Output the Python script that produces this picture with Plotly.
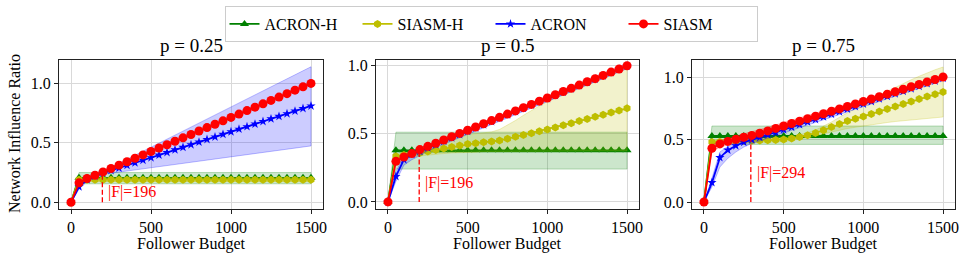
import plotly.graph_objects as go

BUDGET = [0, 50, 100, 150, 200, 250, 300, 350, 400, 450, 500, 550, 600, 650, 700, 750,
          800, 850, 900, 950, 1000, 1050, 1100, 1150, 1200, 1250, 1300, 1350, 1400, 1450, 1500]

PANEL_TITLES = ["p = 0.25", "p = 0.5", "p = 0.75"]
SERIES_NAMES = ["ACRON-H", "SIASM-H", "ACRON", "SIASM"]

# ---------------- p = 0.25 ----------------
acronh_25 = [0] + [0.205] * 30
acronh_25_lo = [0] + [0.155] * 30
acronh_25_hi = [0] + [0.250] * 30
siasmh_25 = [0] + [0.190] * 30
siasmh_25_lo = [0] + [0.175] * 30
siasmh_25_hi = [0] + [0.205] * 30
acron_25 = [0, .130, .190, .220, .245, .267, .288, .310, .332, .354, .375, .397, .419, .441, .462, .484,
            .506, .528, .549, .571, .593, .615, .636, .658, .680, .702, .723, .745, .767, .789, .810]
acron_25_lo = [0, .110, .175, .205, .235, .244, .253, .263, .272, .281, .290, .299, .309, .318, .327, .336,
               .345, .355, .364, .373, .382, .391, .400, .410, .419, .428, .437, .446, .456, .465, .474]
acron_25_hi = [0, .150, .205, .235, .260, .294, .328, .362, .395, .429, .463, .497, .531, .565, .599, .633,
               .666, .700, .734, .768, .802, .836, .870, .903, .937, .971, 1.005, 1.039, 1.073, 1.107, 1.140]
siasm_25 = [0, .163, .200, .227, .255, .284, .312, .341, .370, .398, .427, .456, .484, .513, .542, .570,
            .599, .628, .656, .685, .714, .742, .771, .800, .828, .857, .885, .914, .943, .971, 1.000]
siasm_25_lo = [0, .150, .188, .215, .243, .272, .300, .329, .358, .386, .415, .444, .472, .501, .530, .558,
               .587, .616, .644, .673, .702, .730, .759, .788, .816, .845, .873, .902, .931, .959, .988]
siasm_25_hi = [0, .176, .212, .239, .267, .296, .324, .353, .382, .410, .439, .468, .496, .525, .554, .582,
               .611, .640, .668, .697, .726, .754, .783, .812, .840, .869, .897, .926, .955, .983, 1.012]

# ---------------- p = 0.5 ----------------
acronh_50 = [0] + [0.379] * 30
acronh_50_lo = [0] + [0.241] * 30
acronh_50_hi = [0] + [0.512] * 30
siasmh_50 = [0, .335, .345, .352, .360, .370, .381, .392, .403, .414, .425, .431, .438, .444, .451, .464,
             .478, .491, .505, .518, .532, .547, .563, .578, .594, .609, .625, .640, .656, .671, .687]
siasmh_50_lo = [0, .320, .330, .335, .340, .345, .350, .355, .360, .360, .365, .365, .370, .370, .372, .372,
                .374, .374, .375, .375, .375, .375, .375, .375, .375, .375, .375, .375, .375, .375, .375]
siasmh_50_hi = [0, .350, .360, .368, .378, .400, .425, .448, .468, .484, .495, .501, .506, .514, .532, .562,
                .598, .636, .672, .705, .737, .765, .792, .818, .843, .868, .893, .918, .940, .962, .985]
acron_50 = [0, .187, .310, .350, .372, .398, .421, .446, .470, .494, .518, .543, .567, .591, .615, .639,
            .663, .687, .711, .735, .759, .783, .807, .830, .854, .878, .902, .926, .950, .974, .998]
acron_50_lo = [0, .150, .270, .310, .340, .375, .400, .426, .450, .474, .498, .523, .547, .571, .595, .619,
               .643, .667, .691, .715, .739, .763, .787, .810, .834, .858, .882, .906, .930, .954, .978]
acron_50_hi = [0, .220, .340, .372, .392, .415, .437, .461, .485, .509, .533, .558, .582, .606, .630, .654,
               .678, .702, .726, .750, .774, .798, .822, .845, .869, .893, .917, .941, .965, .989, 1.013]
siasm_50 = [0, .298, .330, .355, .384, .408, .431, .455, .479, .503, .526, .550, .574, .597, .621, .645,
            .668, .692, .716, .740, .763, .787, .811, .834, .858, .882, .905, .929, .953, .976, 1.000]
siasm_50_lo = [0, .283, .315, .340, .369, .393, .416, .440, .464, .488, .511, .535, .559, .582, .606, .630,
               .653, .677, .701, .725, .748, .772, .796, .819, .843, .867, .890, .914, .938, .961, .985]
siasm_50_hi = [0, .313, .345, .370, .399, .423, .446, .470, .494, .518, .541, .565, .589, .612, .636, .660,
               .683, .707, .731, .755, .778, .802, .826, .849, .873, .897, .920, .944, .968, .991, 1.015]

# ---------------- p = 0.75 ----------------
acronh_75 = [0] + [0.528] * 30
acronh_75_lo = [0] + [0.461] * 30
acronh_75_hi = [0] + [0.608] * 30
siasmh_75 = [0, .480, .482, .484, .486, .488, .490, .492, .494, .496, .500, .508, .520, .535, .552, .575,
             .600, .625, .648, .667, .685, .705, .725, .745, .765, .785, .805, .825, .845, .862, .880]
siasmh_75_lo = [0, .465, .468, .470, .472, .474, .476, .478, .480, .482, .486, .493, .503, .515, .528, .545,
                .560, .575, .588, .598, .608, .618, .628, .636, .644, .652, .658, .664, .669, .674, .680]
siasmh_75_hi = [0, .495, .496, .498, .500, .502, .504, .506, .508, .510, .514, .523, .537, .555, .576, .605,
                .640, .678, .715, .752, .787, .822, .855, .887, .918, .948, .978, 1.006, 1.033, 1.058, 1.080]
acron_75 = [0, .155, .355, .415, .450, .478, .497, .517, .537, .557, .578, .598, .619, .640, .660, .681,
            .702, .722, .743, .763, .784, .804, .825, .845, .866, .886, .906, .926, .947, .968, .990]
acron_75_lo = [0, .120, .280, .350, .400, .440, .468, .492, .514, .535, .557, .578, .599, .620, .641, .662,
               .683, .704, .725, .745, .766, .786, .807, .827, .848, .868, .889, .909, .930, .951, .974]
acron_75_hi = [0, .190, .400, .445, .475, .500, .517, .537, .557, .577, .598, .618, .639, .660, .680, .701,
               .722, .742, .763, .783, .802, .822, .843, .863, .884, .904, .923, .943, .964, .984, 1.006]
siasm_75 = [0, .430, .465, .485, .502, .518, .533, .550, .569, .589, .608, .628, .647, .667, .687, .706,
            .726, .745, .765, .785, .804, .824, .843, .863, .882, .902, .922, .941, .961, .980, 1.000]
siasm_75_lo = [0, .400, .440, .458, .475, .490, .505, .522, .541, .561, .581, .601, .621, .642, .662, .682,
               .703, .723, .744, .765, .785, .806, .826, .847, .867, .888, .909, .929, .950, .970, .990]
siasm_75_hi = [0, .455, .490, .512, .530, .546, .561, .578, .597, .617, .636, .655, .674, .693, .712, .731,
               .750, .768, .787, .806, .824, .843, .861, .880, .898, .917, .936, .954, .973, .991, 1.010]

# follower-set size markers
F_SIZE = [196, 196, 294]
F_LINE_TOP = [0.24, 0.39, 0.50]
F_LABEL_Y = [0.087, 0.138, 0.234]

PANELS = [
    [(acronh_25, acronh_25_lo, acronh_25_hi), (siasmh_25, siasmh_25_lo, siasmh_25_hi),
     (acron_25, acron_25_lo, acron_25_hi), (siasm_25, siasm_25_lo, siasm_25_hi)],
    [(acronh_50, acronh_50_lo, acronh_50_hi), (siasmh_50, siasmh_50_lo, siasmh_50_hi),
     (acron_50, acron_50_lo, acron_50_hi), (siasm_50, siasm_50_lo, siasm_50_hi)],
    [(acronh_75, acronh_75_lo, acronh_75_hi), (siasmh_75, siasmh_75_lo, siasmh_75_hi),
     (acron_75, acron_75_lo, acron_75_hi), (siasm_75, siasm_75_lo, siasm_75_hi)],
]
Y_RANGES = [[-0.057, 1.197], [-0.052, 1.042], [-0.056, 1.136]]

# styles
COLORS = ["#008000", "#bfbf00", "#0000ff", "#ff0000"]
FILLS = ["rgba(0,128,0,0.2)", "rgba(191,191,0,0.2)", "rgba(0,0,255,0.2)", "rgba(255,0,0,0.2)"]
EDGES = ["rgba(0,128,0,0.25)", "rgba(191,191,0,0.25)", "rgba(0,0,255,0.25)", "rgba(255,0,0,0.25)"]
SYMBOLS = ["triangle-up", "hexagon", "star", "circle"]
SIZES = [8, 8, 7, 9]

FONT = "Liberation Serif"
W, H = 969, 262
X_DOMAINS = [[59 / W, 323 / W], [376 / W, 639 / W], [692 / W, 955 / W]]
Y_DOMAIN = [1 - 209 / H, 1 - 60 / H]

fig = go.Figure()

for p, series in enumerate(PANELS):
    xa = "x" if p == 0 else f"x{p + 1}"
    ya = "y" if p == 0 else f"y{p + 1}"
    for s, (mean, lo, hi) in enumerate(series):
        fig.add_trace(go.Scatter(
            x=BUDGET, y=mean, xaxis=xa, yaxis=ya, mode="lines+markers",
            name=SERIES_NAMES[s], legendgroup=SERIES_NAMES[s], showlegend=(p == 0),
            line=dict(color=COLORS[s], width=1.8),
            marker=dict(symbol=SYMBOLS[s], size=SIZES[s], color=COLORS[s], line=dict(width=0)),
        ))
        fig.add_trace(go.Scatter(
            x=BUDGET + BUDGET[::-1], y=hi + lo[::-1], xaxis=xa, yaxis=ya,
            mode="lines", fill="toself", fillcolor=FILLS[s],
            line=dict(color=EDGES[s], width=1), hoverinfo="skip", showlegend=False,
        ))
    fig.add_trace(go.Scatter(
        x=[F_SIZE[p], F_SIZE[p]], y=[0, F_LINE_TOP[p]], xaxis=xa, yaxis=ya, mode="lines",
        line=dict(color="#ff0000", width=1.3, dash="5px,2.5px"), showlegend=False, hoverinfo="skip",
    ))
    fig.add_annotation(
        x=F_SIZE[p], y=F_LABEL_Y[p], xref=xa, yref=ya, text=f"|F|={F_SIZE[p]}",
        showarrow=False, xanchor="left", yanchor="middle", xshift=4,
        font=dict(family=FONT, size=16, color="#ff0000"),
    )
    cx = (X_DOMAINS[p][0] + X_DOMAINS[p][1]) / 2
    fig.add_annotation(
        x=cx, y=1 - 46 / H, xref="paper", yref="paper", text=PANEL_TITLES[p],
        showarrow=False, xanchor="center", yanchor="middle",
        font=dict(family=FONT, size=19, color="black"),
    )
    fig.add_annotation(
        x=cx, y=1 - 244 / H, xref="paper", yref="paper", text="Follower Budget",
        showarrow=False, xanchor="center", yanchor="middle",
        font=dict(family=FONT, size=16, color="black"),
    )

fig.add_annotation(
    x=14 / W, y=1 - 134 / H, xref="paper", yref="paper", text="Network Influence Ratio",
    showarrow=False, textangle=-90, xanchor="center", yanchor="middle",
    font=dict(family=FONT, size=16, color="black"),
)

axis_common = dict(
    showline=True, mirror=True, linecolor="#222222", linewidth=1,
    showgrid=True, gridcolor="#d9d9d9", gridwidth=1.2, zeroline=False,
    ticks="outside", ticklen=4, tickcolor="#222222",
    tickfont=dict(family=FONT, size=16, color="black"),
)
layout = {}
for p in range(3):
    xk = "xaxis" if p == 0 else f"xaxis{p + 1}"
    yk = "yaxis" if p == 0 else f"yaxis{p + 1}"
    ya_name = "y" if p == 0 else f"y{p + 1}"
    xa_name = "x" if p == 0 else f"x{p + 1}"
    layout[xk] = dict(axis_common, domain=X_DOMAINS[p], range=[-75, 1575],
                      tickvals=[0, 500, 1000, 1500], anchor=ya_name, automargin=False)
    layout[yk] = dict(axis_common, domain=Y_DOMAIN, range=Y_RANGES[p],
                      tickvals=[0, 0.5, 1.0], tickformat=".1f", anchor=xa_name, automargin=False)

fig.update_layout(
    **layout,
    width=W, height=H, margin=dict(l=0, r=0, t=0, b=0, autoexpand=False),
    plot_bgcolor="white", paper_bgcolor="white",
    font=dict(family=FONT, size=16, color="black"),
    showlegend=True,
    legend=dict(orientation="h", x=491 / W, xanchor="center", y=1 - 6 / H, yanchor="top",
                bordercolor="#cccccc", borderwidth=1, bgcolor="white",
                font=dict(family=FONT, size=16, color="black"), itemwidth=30,
                entrywidth=88, entrywidthmode="pixels", tracegroupgap=0),
)

fig.write_html("out.html", config={"displayModeBar": False},
               post_script="document.body.style.margin='0';document.body.style.padding='0';")
